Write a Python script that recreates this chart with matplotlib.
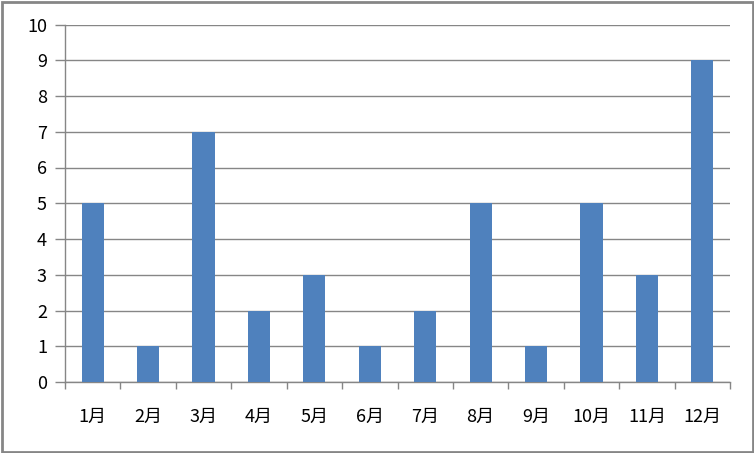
import matplotlib
matplotlib.use("Agg")
import matplotlib.pyplot as plt
from matplotlib.patches import Rectangle
import numpy as np

plt.rcParams['font.family'] = ['Noto Sans CJK SC', 'DejaVu Sans']

months = ["1月", "2月", "3月", "4月", "5月", "6月", "7月", "8月", "9月", "10月", "11月", "12月"]
values = [5, 1, 7, 2, 3, 1, 2, 5, 1, 5, 3, 9]
yticks = [0, 1, 2, 3, 4, 5, 6, 7, 8, 9, 10]

grey = "#868686"
fig = plt.figure(figsize=(7.54, 4.53), dpi=100)
ax = fig.add_axes([65/754, 1-382/453, (730-65)/754, (382-24.5)/453])

x = np.arange(len(months))
ax.bar(x, values, width=0.4, color="#4F81BD", zorder=3)
ax.set_xlim(-0.5, len(months)-0.5)
ax.set_ylim(0, 10)
ax.set_yticks(yticks)
ax.set_yticklabels([str(v) for v in yticks])
ax.yaxis.grid(True, color=grey, linewidth=1, zorder=0)
ax.set_xticks(x)
ax.set_xticklabels(months)
ax.set_xticks(np.arange(-0.5, len(months)), minor=True)
ax.tick_params(axis='x', which='major', length=0, pad=19, labelsize=13)
ax.tick_params(axis='x', which='minor', length=5, color=grey, width=1)
ax.tick_params(axis='y', length=7, color=grey, width=1, pad=6, labelsize=13)
for s in ['top', 'right']:
    ax.spines[s].set_visible(False)
for s in ['left', 'bottom']:
    ax.spines[s].set_color(grey)
    ax.spines[s].set_linewidth(1)

fig.patches.append(Rectangle((1.5/754, 1.5/453), 1-3/754, 1-3/453, transform=fig.transFigure,
                             fill=False, edgecolor=grey, linewidth=2))
fig.savefig("out.png", dpi=100)
